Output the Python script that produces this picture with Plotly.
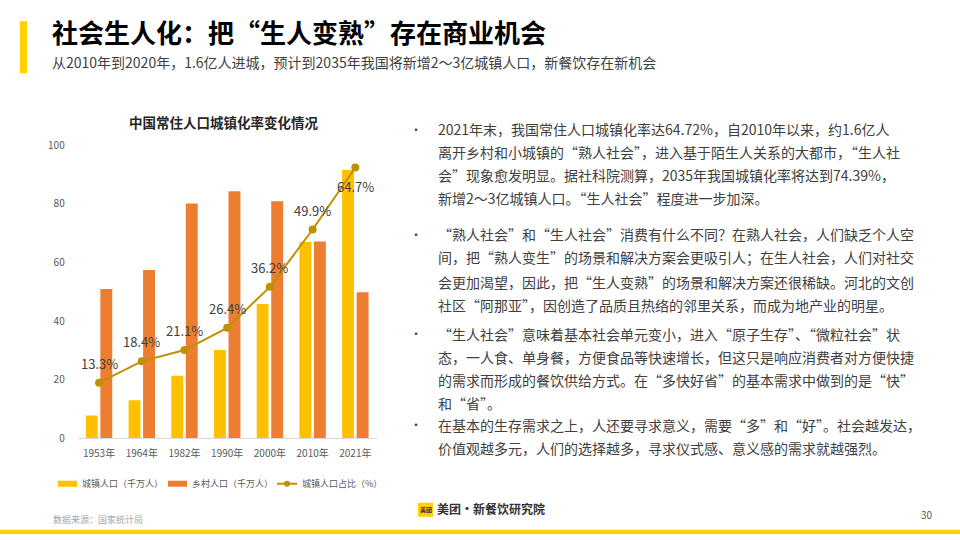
import plotly.graph_objects as go

# ---------------- data ----------------
years = ["1953年", "1964年", "1982年", "1990年", "2000年", "2010年", "2021年"]
urban_pop = [7.8, 13.0, 21.4, 30.2, 45.9, 67.0, 91.6]      # 城镇人口（千万人）
rural_pop = [51.0, 57.5, 80.2, 84.3, 80.9, 67.2, 49.9]     # 乡村人口（千万人）
urban_rate = [13.3, 18.4, 21.1, 26.4, 36.2, 49.9, 64.7]    # 城镇人口占比（%）
series_names = ["城镇人口（千万人）", "乡村人口（千万人）", "城镇人口占比（%）"]
y_ticks = [0, 20, 40, 60, 80, 100]

title = "社会生人化：把“生人变熟”存在商业机会"
subtitle = "从2010年到2020年，1.6亿人进城，预计到2035年我国将新增2～3亿城镇人口，新餐饮存在新机会"
chart_title = "中国常住人口城镇化率变化情况"
source = "数据来源：国家统计局"
brand = "美团·新餐饮研究院"
page_no = "30"

paragraphs = [
    ["2021年末，我国常住人口城镇化率达64.72%，自2010年以来，约1.6亿人",
     "离开乡村和小城镇的“熟人社会”，进入基于陌生人关系的大都市，“生人社",
     "会”现象愈发明显。据社科院测算，2035年我国城镇化率将达到74.39%，",
     "新增2～3亿城镇人口。“生人社会”程度进一步加深。"],
    ["“熟人社会”和“生人社会”消费有什么不同？在熟人社会，人们缺乏个人空",
     "间，把“熟人变生”的场景和解决方案会更吸引人；在生人社会，人们对社交",
     "会更加渴望，因此，把“生人变熟”的场景和解决方案还很稀缺。河北的文创",
     "社区“阿那亚”，因创造了品质且热络的邻里关系，而成为地产业的明星。"],
    ["“生人社会”意味着基本社会单元变小，进入“原子生存”、“微粒社会”状",
     "态，一人食、单身餐，方便食品等快速增长，但这只是响应消费者对方便快捷",
     "的需求而形成的餐饮供给方式。在“多快好省”的基本需求中做到的是“快”",
     "和“省”。"],
    ["在基本的生存需求之上，人还要寻求意义，需要“多”和“好”。社会越发达，",
     "价值观越多元，人们的选择越多，寻求仪式感、意义感的需求就越强烈。"],
]
para_line_y = [[128, 151, 174, 197], [233, 256, 280, 303], [332, 355, 378, 401], [423, 446]]

# ---------------- style ----------------
FONT = "Noto Sans CJK SC, Noto Sans, sans-serif"
YELLOW_BAR = "#FFC000"
ORANGE_BAR = "#ED7D31"
LINE_COL = "#BF9000"
BRAND_YELLOW = "#FFD100"
W, H = 960, 540
VS = 556 / 540   # vertical correction for the capture


def px(x):
    return x / W


def py(y):
    # target screen y (px from top) -> paper coordinate
    ys = y * VS - 8
    return min(1.0, max(0.0, 1 - ys / H))


fig = go.Figure()
fig.add_trace(go.Bar(x=years, y=urban_pop, name=series_names[0],
                     marker=dict(color=YELLOW_BAR, line=dict(width=0))))
fig.add_trace(go.Bar(x=years, y=rural_pop, name=series_names[1],
                     marker=dict(color=ORANGE_BAR, line=dict(width=0))))
fig.add_trace(go.Scatter(x=years, y=urban_rate, name=series_names[2], yaxis="y2",
                         mode="lines+markers",
                         line=dict(color=LINE_COL, width=2),
                         marker=dict(color=LINE_COL, size=8)))

annotations = []
# data labels for the line
for i, (yr, v) in enumerate(zip(years, urban_rate)):
    below = (i == len(years) - 1)
    annotations.append(dict(x=yr, y=v, xref="x", yref="y2", text=f"{v:.1f}%",
                            showarrow=False, xanchor="center", yanchor="middle",
                            yshift=-19 if below else 19.5,
                            font=dict(family=FONT, size=13, color="#404040")))

# page title / subtitle
annotations.append(dict(x=px(50), y=py(30), xref="paper", yref="paper", text=f"<b>{title}</b>",
                        showarrow=False, xanchor="left", yanchor="middle",
                        font=dict(family=FONT, size=26, color="#000000")))
annotations.append(dict(x=px(50), y=py(61), xref="paper", yref="paper", text=subtitle,
                        showarrow=False, xanchor="left", yanchor="middle",
                        font=dict(family=FONT, size=14, color="#404040")))
# chart title
annotations.append(dict(x=px(224), y=py(121), xref="paper", yref="paper", text=f"<b>{chart_title}</b>",
                        showarrow=False, xanchor="center", yanchor="middle",
                        font=dict(family=FONT, size=13.5, color="#262626")))

# manual legend
shapes = []
leg_y = 482
shapes.append(dict(type="rect", xref="paper", yref="paper", x0=px(58), x1=px(77),
                   y0=py(485), y1=py(479), fillcolor=YELLOW_BAR, line=dict(width=0)))
shapes.append(dict(type="rect", xref="paper", yref="paper", x0=px(168), x1=px(187),
                   y0=py(485), y1=py(479), fillcolor=ORANGE_BAR, line=dict(width=0)))
shapes.append(dict(type="line", xref="paper", yref="paper", x0=px(277), x1=px(297),
                   y0=py(leg_y), y1=py(leg_y), line=dict(color=LINE_COL, width=2)))
shapes.append(dict(type="circle", xref="paper", yref="paper", x0=px(284), x1=px(290),
                   y0=py(leg_y + 3), y1=py(leg_y - 3), fillcolor=LINE_COL, line=dict(width=0)))
for xx, name in zip([80, 190, 300], series_names):
    annotations.append(dict(x=px(xx), y=py(leg_y), xref="paper", yref="paper", text=name,
                            showarrow=False, xanchor="left", yanchor="middle",
                            font=dict(family=FONT, size=9, color="#595959")))

# right-hand text
for lines, ys in zip(paragraphs, para_line_y):
    annotations.append(dict(x=px(416), y=py(ys[0]), xref="paper", yref="paper", text="•",
                            showarrow=False, xanchor="center", yanchor="middle",
                            font=dict(family=FONT, size=12, color="#404040")))
    for t, yy in zip(lines, ys):
        annotations.append(dict(x=px(436), y=py(yy), xref="paper", yref="paper", text=t,
                                showarrow=False, xanchor="left", yanchor="middle",
                                font=dict(family=FONT, size=14, color="#404040")))

# decorations
shapes.append(dict(type="rect", xref="paper", yref="paper", x0=px(20), x1=px(27),
                   y0=py(72), y1=py(20), fillcolor=BRAND_YELLOW, line=dict(width=0)))
shapes.append(dict(type="rect", xref="paper", yref="paper", x0=0, x1=1,
                   y0=0, y1=py(528), fillcolor=BRAND_YELLOW, line=dict(width=0)))
shapes.append(dict(type="rect", xref="paper", yref="paper", x0=px(418), x1=px(433),
                   y0=py(515), y1=py(501), fillcolor=BRAND_YELLOW, line=dict(width=0)))
annotations.append(dict(x=px(425.5), y=py(508), xref="paper", yref="paper", text="<b>美团</b>",
                        showarrow=False, xanchor="center", yanchor="middle",
                        font=dict(family=FONT, size=6, color="#333333")))
annotations.append(dict(x=px(435), y=py(507), xref="paper", yref="paper", text=f"<b>{brand}</b>",
                        showarrow=False, xanchor="left", yanchor="middle",
                        font=dict(family=FONT, size=12, color="#333333")))
annotations.append(dict(x=px(51), y=py(518), xref="paper", yref="paper", text=source,
                        showarrow=False, xanchor="left", yanchor="middle",
                        font=dict(family=FONT, size=9, color="#A6A6A6")))
annotations.append(dict(x=px(935), y=py(513), xref="paper", yref="paper", text=page_no,
                        showarrow=False, xanchor="right", yanchor="middle",
                        font=dict(family=FONT, size=10, color="#595959")))

fig.update_layout(
    width=W, height=H,
    margin=dict(l=0, r=0, t=0, b=0),
    paper_bgcolor="white", plot_bgcolor="white",
    barmode="group", bargap=0.32, bargroupgap=0.18,
    showlegend=False,
    font=dict(family=FONT, color="#595959"),
    xaxis=dict(domain=[px(77.7), px(376.7)], showgrid=False, showline=True,
               linecolor="#D9D9D9", linewidth=1, ticks="", zeroline=False,
               tickfont=dict(family=FONT, size=10, color="#595959"),
               ticklabelstandoff=6, fixedrange=True),
    yaxis=dict(domain=[py(436.7), py(144)], range=[0, 100], tickvals=y_ticks,
               showgrid=False, zeroline=False, showline=False, ticks="",
               tickfont=dict(family=FONT, size=10, color="#595959"),
               ticklabelstandoff=12, fixedrange=True),
    yaxis2=dict(overlaying="y", range=[0, 70], visible=False, fixedrange=True),
    shapes=shapes,
    annotations=annotations,
)

page_fix = (
    "var d=document.documentElement,b=document.body;"
    "d.style.margin='0';d.style.padding='0';d.style.overflow='hidden';"
    "b.style.margin='0';b.style.padding='0';b.style.overflow='hidden';"
)
fig.write_html("out.html", config={"displayModeBar": False}, post_script=page_fix)
